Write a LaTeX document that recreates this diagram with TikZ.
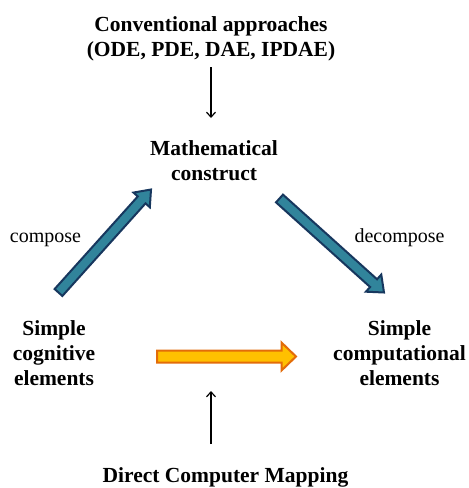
\documentclass[tikz,border=0pt]{standalone}
\usepackage{fontspec}
\setmainfont{Liberation Serif}
\usetikzlibrary{calc,arrows.meta}
\definecolor{tealfill}{HTML}{31849B}
\definecolor{navyline}{HTML}{17375E}
\definecolor{orfill}{HTML}{FFC000}
\definecolor{orline}{HTML}{E36C09}
\tikzset{
  boldlbl/.style={font=\fontsize{21.5}{25}\selectfont\bfseries, align=center, inner sep=0pt},
  plainlbl/.style={font=\fontsize{20}{24}\selectfont, inner sep=0pt, anchor=base},
  thinarrow/.style={draw=black, line width=1.2pt, -{Straight Barb[length=5pt,width=9pt,line width=1.2pt]}},
  bluearrow/.style={fill=tealfill, draw=navyline, line width=2pt, line join=miter},
  orangearrow/.style={fill=orfill, draw=orline, line width=2pt, line join=miter}
}
% block arrow: #1 tail centre, #2 tip, #3 shaft half width, #4 head half width, #5 head length, #6 style
\newcommand{\blockarr}[6]{%
  \coordinate (ba-H) at ($(#2)!#5!(#1)$);
  \path[#6] ($(#1)!#3!90:(#2)$) -- ($(ba-H)!#3!90:(#2)$) -- ($(ba-H)!#4!90:(#2)$)
     -- (#2) -- ($(ba-H)!#4!-90:(#2)$) -- ($(ba-H)!#3!-90:(#2)$) -- ($(#1)!#3!-90:(#2)$) -- cycle;
}
\begin{document}
\begin{tikzpicture}[x=1pt,y=-1pt]
\useasboundingbox (0,0) rectangle (469,488);
\fill[white] (0,0) rectangle (469,488);

\node[boldlbl] (conv) at (211,39) {Conventional approaches\\(ODE, PDE, DAE, IPDAE)};
\node[boldlbl] (math) at (214,160.5) {Mathematical\\construct};
\node[boldlbl] (cog) at (54,353.5) {Simple\\cognitive\\elements};
\node[boldlbl] (comp) at (399.5,353.5) {Simple\\computational\\elements};
\node[boldlbl] (dcm) at (225.5,477) {Direct Computer Mapping};
\node[plainlbl] (compose) at (45.5,242) {compose};
\node[plainlbl] (decompose) at (399.5,242) {decompose};

\coordinate (a1) at (211,67);
\coordinate (a1e) at (211,118);
\draw[thinarrow] (a1) -- (a1e);
\coordinate (a2) at (211,444);
\coordinate (a2e) at (211,391);
\draw[thinarrow] (a2) -- (a2e);

\coordinate (ct) at (58.5,292.5);
\coordinate (cp) at (151,189.5);
\blockarr{ct}{cp}{5.2pt}{11pt}{14pt}{bluearrow}

\coordinate (dt) at (279.5,198.5);
\coordinate (dp) at (384,292.5);
\blockarr{dt}{dp}{5.2pt}{11.5pt}{14pt}{bluearrow}

\coordinate (ot) at (157,356.5);
\coordinate (op) at (296,356.5);
\blockarr{ot}{op}{6pt}{14pt}{14.5pt}{orangearrow}
\end{tikzpicture}
\end{document}
